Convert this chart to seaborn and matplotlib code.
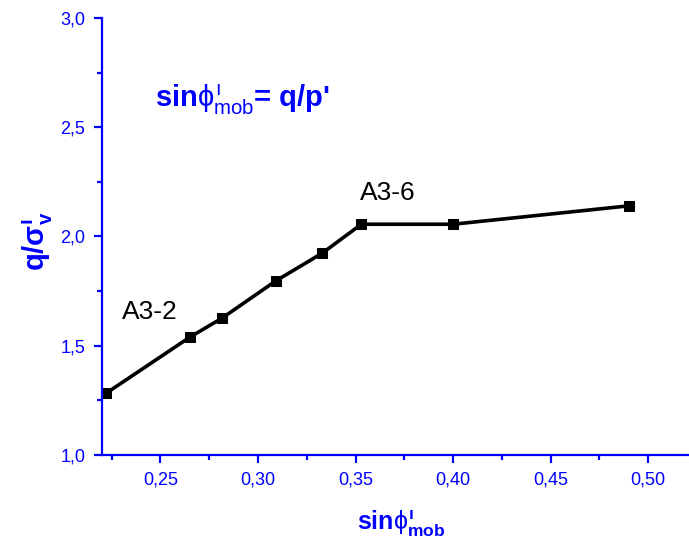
import matplotlib
matplotlib.use('Agg')
import matplotlib.pyplot as plt
import seaborn as sns
import pandas as pd
from matplotlib.ticker import FuncFormatter, MultipleLocator

# data
sin_phi_mob = [0.222, 0.265, 0.2815, 0.309, 0.333, 0.353, 0.400, 0.490]
q_sigma_v = [1.282, 1.539, 1.626, 1.796, 1.924, 2.056, 2.056, 2.140]
point_labels = ['A3-2', 'A3-6']

df = pd.DataFrame({'x': sin_phi_mob, 'y': q_sigma_v})

sns.set_style('ticks')
plt.rcParams['font.family'] = ['Liberation Sans', 'DejaVu Sans']
plt.rcParams['mathtext.fontset'] = 'custom'
plt.rcParams['mathtext.rm'] = 'Liberation Sans'
plt.rcParams['mathtext.it'] = 'Liberation Sans'
plt.rcParams['mathtext.bf'] = 'Liberation Sans:bold'

blue = '#0000ff'

fig = plt.figure(figsize=(6.89, 5.43), dpi=100)
ax = fig.add_axes([0.148, 0.162, 0.852, 0.805])

sns.lineplot(data=df, x='x', y='y', ax=ax, color='black', linewidth=2.6,
             marker='s', markersize=7, markeredgecolor='black', sort=False)

ax.set_xlim(0.22, 0.521)
ax.set_ylim(1.0, 3.0)
ax.xaxis.set_major_locator(MultipleLocator(0.05))
ax.xaxis.set_minor_locator(MultipleLocator(0.025))
ax.yaxis.set_major_locator(MultipleLocator(0.5))
ax.yaxis.set_minor_locator(MultipleLocator(0.25))
ax.xaxis.set_major_formatter(FuncFormatter(lambda v, p: f"{v:.2f}".replace('.', ',')))
ax.yaxis.set_major_formatter(FuncFormatter(lambda v, p: f"{v:.1f}".replace('.', ',')))

for side in ['top', 'right']:
    ax.spines[side].set_visible(False)
for side in ['left', 'bottom']:
    ax.spines[side].set_color(blue)
    ax.spines[side].set_linewidth(1.6)

ax.tick_params(which='major', direction='out', length=6, width=1.6, color=blue,
               labelcolor=blue, labelsize=13, pad=6)
ax.tick_params(which='minor', direction='out', length=3.5, width=1.6, color=blue)

ax.set_xlabel(r"$\mathbf{sin}\phi^{\mathbf{ı}}_{\mathbf{mob}}$", color=blue, fontsize=18)
ax.xaxis.set_label_coords(0.509, -0.122)
ax.set_ylabel(r"$\mathbf{q/\sigma^{ı}_{v}}$", color=blue, fontsize=21)
ax.yaxis.set_label_coords(-0.08, 0.49)

ax.text(0.2473, 2.625, r"$\mathbf{sin}\phi^{ı}_{\mathrm{mob}}$= q/p'",
        color=blue, fontsize=21, fontweight='bold', va='center')
ax.text(0.2304, 1.654, point_labels[0], fontsize=19, color='black', va='center')
ax.text(0.3524, 2.199, point_labels[1], fontsize=19, color='black', va='center')

fig.savefig('out.png', dpi=100)
